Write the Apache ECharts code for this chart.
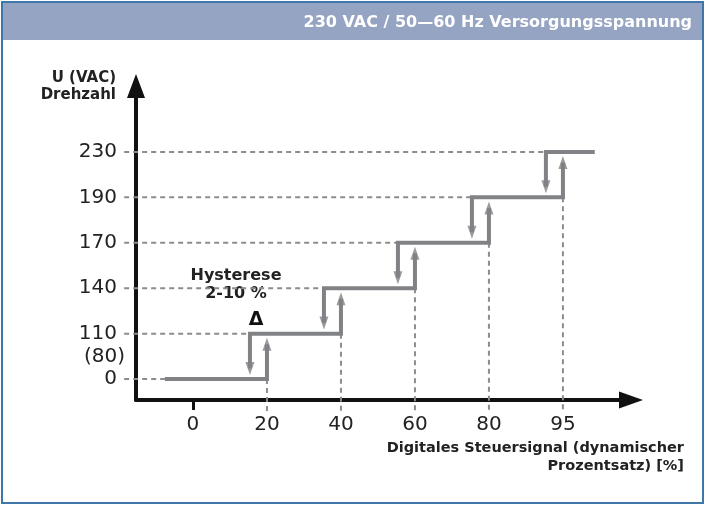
<!DOCTYPE html>
<html>
<head>
<meta charset="utf-8">
<script src="https://cdn.jsdelivr.net/npm/echarts@6/dist/echarts.min.js"></script>
<style>
  html, body { margin: 0; padding: 0; background: #fff; }
  #chart { width: 709px; height: 506px; }
</style>
</head>
<body>
<div id="chart"></div>
<script>
// Achsbeschriftungen (Positionen sind Indizes auf den Achsen)
const xLabels = ['0', '20', '40', '60', '80', '95'];
const yLabels = ['0', '110', '140', '170', '190', '230'];
const yExtraLabel = '(80)';
const yExtraPos = 0.5;

// Schaltpunkte: bei Index k springt die Stufe von k-1 auf k
const stepUpAt = [1, 2, 3, 4, 5];
const hysteresis = 0.23;     // Abstand der Rückschaltung (Achs-Einheiten)
const lineStart = -0.38;
const lineEnd = 5.43;

const FONT = 'DejaVu Sans';
const GREY = '#808285';
const DASH = '#8c8c8c';

// Pfeilspitzen in Achs-Einheiten
const tipGap = 0.09;
const headHalf = 0.143;

const series = [];
const heads = [];
const guides = [];   // [x1, y1, x2, y2]

function addLine(data, z) {
  series.push({
    type: 'line',
    data: data,
    symbol: 'none',
    z: z,
    clip: false,
    animation: false,
    lineStyle: { color: GREY, width: 4, cap: 'butt', join: 'miter' }
  });
}

const nLevels = yLabels.length;
for (let k = 0; k < nLevels; k++) {
  const pts = [];
  const left = k === 0 ? lineStart : stepUpAt[k - 1] - hysteresis;
  if (k > 0) {
    const downY = k - 1 + tipGap + headHalf;
    pts.push([left, downY]);
    heads.push({ value: [left, downY], symbolRotate: 180 });
  }
  pts.push([left, k]);
  if (k < nLevels - 1) {
    const x = stepUpAt[k];
    const upY = k + 1 - tipGap - headHalf;
    pts.push([x, k], [x, upY]);
    heads.push({ value: [x, upY], symbolRotate: 0 });
    // senkrechte Hilfslinie nach unten
    guides.push([x, k, x, -0.73]);
  } else {
    pts.push([lineEnd, k]);
  }
  addLine(pts, 3);
  // waagrechte Hilfslinie zur Y-Achse
  guides.push([-0.93, k, left, k]);
}

// Hilfslinien (gestrichelt)
series.push({
  type: 'custom',
  data: guides,
  z: 1,
  clip: false,
  silent: true,
  animation: false,
  encode: { x: [0, 2], y: [1, 3] },
  renderItem: function (params, api) {
    const a = api.coord([api.value(0), api.value(1)]);
    const b = api.coord([api.value(2), api.value(3)]);
    return {
      type: 'line',
      shape: { x1: a[0], y1: a[1], x2: b[0], y2: b[1] },
      style: { stroke: DASH, lineWidth: 2, lineDash: [5, 4] }
    };
  }
});

series.push({
  type: 'scatter',
  data: heads,
  symbol: 'triangle',
  symbolSize: [9, 13],
  z: 4,
  animation: false,
  itemStyle: { color: GREY }
});

const chart = echarts.init(document.getElementById('chart'), null, { renderer: 'canvas' });
chart.setOption({
  backgroundColor: '#fff',
  animation: false,
  grid: { left: 136, top: 86, width: 495, height: 314, outerBoundsMode: 'none' },
  xAxis: {
    type: 'value',
    min: -0.77,
    max: 5.92,
    axisLine: {
      show: true,
      onZero: false,
      symbol: ['none', 'triangle'],
      symbolSize: [17, 24],
      lineStyle: { color: '#111', width: 4 }
    },
    axisTick: {
      show: true,
      customValues: [0],
      length: 10,
      lineStyle: { color: '#111', width: 3 }
    },
    axisLabel: {
      customValues: [0, 1, 2, 3, 4, 5],
      formatter: v => xLabels[Math.round(v)],
      margin: 15,
      fontFamily: FONT,
      fontSize: 20,
      color: '#222'
    },
    splitLine: { show: false }
  },
  yAxis: [{
    type: 'value',
    min: -0.46,
    max: 6.45,
    axisLine: {
      show: true,
      onZero: false,
      symbol: ['none', 'triangle'],
      symbolSize: [18, 24],
      lineStyle: { color: '#111', width: 4 }
    },
    axisTick: { show: false },
    axisLabel: {
      customValues: [0, 1, 2, 3, 4, 5],
      formatter: v => yLabels[Math.round(v)],
      margin: 19,
      fontFamily: FONT,
      fontSize: 20,
      color: '#222'
    },
    splitLine: { show: false }
  }, {
    type: 'value',
    min: -0.46,
    max: 6.45,
    position: 'left',
    offset: -8,
    axisLine: { show: false, onZero: false },
    axisTick: { show: false },
    axisLabel: {
      customValues: [yExtraPos],
      formatter: () => yExtraLabel,
      margin: 19,
      fontFamily: FONT,
      fontSize: 20,
      color: '#222'
    },
    splitLine: { show: false }
  }],
  graphic: [
    {
      type: 'rect',
      shape: { x: 2, y: 2, width: 701, height: 38 },
      style: { fill: '#96a4c3' },
      z: 0
    },
    {
      type: 'rect',
      shape: { x: 2, y: 2, width: 701, height: 501 },
      style: { fill: 'none', stroke: '#3f77a8', lineWidth: 2 },
      z: 10
    },
    {
      type: 'text',
      x: 692, y: 23,
      style: {
        text: '230 VAC / 50\u201460 Hz Versorgungsspannung',
        fill: '#fff', font: 'bold 16px "DejaVu Sans"',
        textAlign: 'right', textVerticalAlign: 'middle'
      }
    },
    {
      type: 'text',
      x: 116, y: 70,
      style: {
        text: 'U (VAC)\nDrehzahl',
        fill: '#222', font: 'bold 15px "DejaVu Sans"', lineHeight: 17,
        textAlign: 'right', textVerticalAlign: 'top'
      }
    },
    {
      type: 'text',
      x: 684, y: 439,
      style: {
        text: 'Digitales Steuersignal (dynamischer\nProzentsatz) [%]',
        fill: '#222', font: 'bold 14.5px "DejaVu Sans"', lineHeight: 18,
        textAlign: 'right', textVerticalAlign: 'top'
      }
    },
    {
      type: 'text',
      x: 236, y: 267,
      style: {
        text: 'Hysterese\n2-10 %',
        fill: '#222', font: 'bold 16px "DejaVu Sans"', lineHeight: 18,
        textAlign: 'center', textVerticalAlign: 'top'
      }
    },
    {
      type: 'text',
      x: 256, y: 320,
      style: {
        text: '\u0394',
        fill: '#111', font: 'bold 19px "DejaVu Sans"',
        textAlign: 'center', textVerticalAlign: 'middle'
      }
    }
  ],
  series: series
});
</script>
</body>
</html>
